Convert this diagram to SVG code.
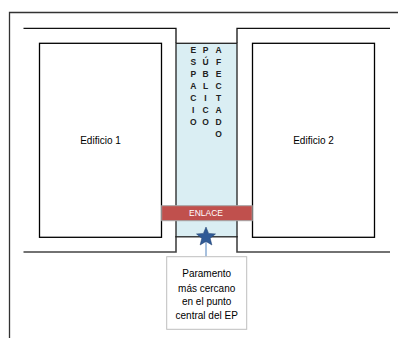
<svg xmlns="http://www.w3.org/2000/svg" width="398" height="338" viewBox="0 0 398 338">
<style>
.t{font-family:"Liberation Sans",Arial,sans-serif;fill:#000}
.v{font-family:"Liberation Sans",Arial,sans-serif;font-weight:bold;font-size:8.5px;fill:#222;text-anchor:middle}
.bld{fill:#fff;stroke:#000;stroke-width:1.3}
</style>
<rect width="398" height="338" fill="#fff"/>
<g id="frame" fill="none" stroke="#333" stroke-width="1.3">
<polyline points="398,12.5 9.5,12.5 9.5,338"/>
</g>
<g id="street" fill="none">
<polyline points="23.5,28.3 176,28.3 176,43" stroke="#111" stroke-width="1.3"/>
<polyline points="237,43 237,28.3 390,28.3" stroke="#111" stroke-width="1.3"/>
<polyline points="23.5,252 176,252 176,236" stroke="#444" stroke-width="1.6"/>
<polyline points="237,236 237,252 390,252" stroke="#444" stroke-width="1.6"/>
</g>
<g id="edificio1">
<rect class="bld" x="39.5" y="43.3" width="122" height="194"/>
<text class="t" x="100.5" y="144" font-size="10" text-anchor="middle">Edificio 1</text>
</g>
<g id="edificio2">
<rect class="bld" x="252.5" y="43.3" width="122" height="194"/>
<text class="t" x="313.5" y="144" font-size="10" text-anchor="middle">Edificio 2</text>
</g>
<g id="espacio">
<rect x="176" y="43.3" width="61" height="193.5" fill="#DAEEF3" stroke="#222" stroke-width="1.3"/>
<g class="v">
<text x="193.3" y="53">E</text><text x="193.3" y="65">S</text><text x="193.3" y="77">P</text><text x="193.3" y="89">A</text><text x="193.3" y="101">C</text><text x="193.3" y="113">I</text><text x="193.3" y="125">O</text>
<text x="205.5" y="53">P</text><text x="205.5" y="65">Ú</text><text x="205.5" y="77">B</text><text x="205.5" y="89">L</text><text x="205.5" y="101">I</text><text x="205.5" y="113">C</text><text x="205.5" y="125">O</text>
<text x="218.5" y="53">A</text><text x="218.5" y="65">F</text><text x="218.5" y="77">E</text><text x="218.5" y="89">C</text><text x="218.5" y="101">T</text><text x="218.5" y="113">A</text><text x="218.5" y="125">D</text><text x="218.5" y="137">O</text>
</g>
</g>
<g id="enlace">
<rect x="161.7" y="205.7" width="90.5" height="15" fill="#C0504D" stroke="#A6A6A6" stroke-width="1"/>
<text x="206" y="216.3" font-family="Liberation Sans,Arial,sans-serif" font-size="8.5" fill="#fff" text-anchor="middle">ENLACE</text>
</g>
<g id="connectors">
<line x1="206" y1="240" x2="206" y2="256.7" stroke="#4F81BD" stroke-width="1"/>
</g>
<g id="punto">
<polygon points="206,227 208.6,233.4 215.5,233.9 210.2,238.3 211.9,245 206,241.4 200.1,245 201.8,238.3 196.5,233.9 203.4,233.4" fill="#2F5A96" stroke="#1F3F6E" stroke-width="0.5"/>
</g>
<g id="callout">
<rect x="166.7" y="256.7" width="80" height="72.6" fill="#fff" stroke="#BFBFBF" stroke-width="1"/>
<g class="t" font-size="10" text-anchor="middle">
<text x="206.7" y="277">Paramento</text>
<text x="206.7" y="291.5">más cercano</text>
<text x="206.7" y="305">en el punto</text>
<text x="206.7" y="318.5">central del EP</text>
</g>
</g>
</svg>
